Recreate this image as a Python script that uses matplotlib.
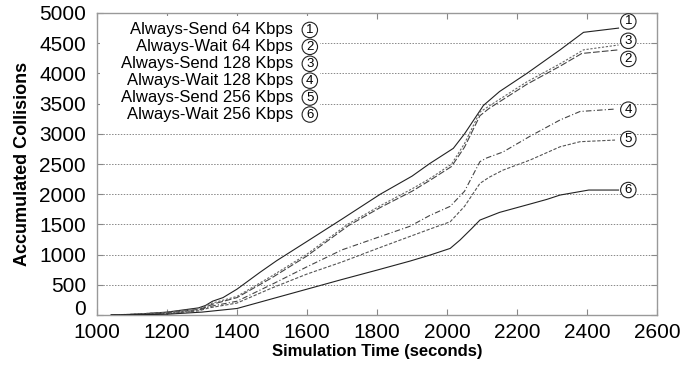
import numpy as np
import matplotlib
matplotlib.use('Agg')
import matplotlib.pyplot as plt
from matplotlib.patches import Rectangle

plt.rcParams['font.family'] = ['Liberation Sans', 'DejaVu Sans']

# curve data (time in s, accumulated collisions)
t1 = [1040, 1100, 1200, 1290, 1310, 1330, 1360, 1400, 1466, 1513, 1600, 1700, 1809, 1900, 1951, 2018, 2050, 2104, 2150, 2228, 2323, 2390, 2490]
v1 = [0, 10, 50, 120, 160, 230, 290, 430, 710, 900, 1220, 1590, 2000, 2300, 2510, 2760, 3000, 3470, 3700, 4000, 4390, 4680, 4750]

t2 = [1040, 1200, 1290, 1310, 1330, 1400, 1500, 1600, 1718, 1809, 1900, 1951, 2013, 2050, 2094, 2120, 2228, 2323, 2385, 2490]
v2 = [0, 40, 95, 130, 180, 290, 620, 980, 1480, 1780, 2050, 2230, 2460, 2780, 3300, 3420, 3820, 4120, 4330, 4390]

t3 = [1040, 1200, 1290, 1310, 1330, 1400, 1500, 1600, 1718, 1809, 1900, 1951, 2013, 2050, 2094, 2120, 2228, 2323, 2390, 2490]
v3 = [0, 45, 105, 150, 200, 310, 650, 1010, 1510, 1810, 2090, 2260, 2500, 2840, 3360, 3460, 3860, 4160, 4390, 4470]

t4 = [1040, 1200, 1290, 1320, 1400, 1500, 1600, 1700, 1809, 1894, 1951, 2009, 2050, 2094, 2113, 2160, 2237, 2323, 2380, 2480]
v4 = [0, 30, 80, 140, 230, 510, 800, 1080, 1300, 1470, 1650, 1800, 2050, 2540, 2600, 2700, 2960, 3230, 3370, 3410]

t5 = [1040, 1200, 1290, 1320, 1400, 1500, 1600, 1700, 1800, 1866, 1951, 2009, 2050, 2094, 2120, 2160, 2237, 2323, 2380, 2480]
v5 = [0, 25, 70, 120, 200, 450, 680, 880, 1100, 1242, 1424, 1545, 1800, 2180, 2280, 2400, 2566, 2786, 2870, 2897]

t6 = [1040, 1200, 1300, 1400, 1500, 1600, 1700, 1800, 1894, 1951, 2009, 2037, 2070, 2094, 2150, 2237, 2285, 2323, 2405, 2490]
v6 = [0, 15, 50, 110, 270, 430, 590, 745, 894, 993, 1104, 1242, 1430, 1573, 1700, 1838, 1915, 1987, 2070, 2070]

labels = ['Always-Send 64 Kbps', 'Always-Wait 64 Kbps', 'Always-Send 128 Kbps',
          'Always-Wait 128 Kbps', 'Always-Send 256 Kbps', 'Always-Wait 256 Kbps']
end_marks = ['1', '3', '2', '4', '5', '6']
end_y = [4860, 4540, 4240, 3400, 2915, 2070]

fig = plt.figure(figsize=(6.96, 3.66), dpi=100)
ax = fig.add_axes([0.1394, 0.139, 0.8046, 0.8255])

styles = [
    dict(color='#222222', ls='-', lw=0.8),
    dict(color='#444444', ls=(0, (6, 2)), lw=0.8),
    dict(color='#666666', ls=(0, (2, 1.5)), lw=0.8),
    dict(color='#444444', ls=(0, (5, 2, 1, 2)), lw=0.8),
    dict(color='#555555', ls=(0, (3, 1.5)), lw=0.8),
    dict(color='#222222', ls='-', lw=0.8),
]
series = [(t1, v1), (t2, v2), (t3, v3), (t4, v4), (t5, v5), (t6, v6)]
for (t, v), st in zip(series, styles):
    ax.plot(t, v, zorder=3, **st)

ax.set_xlim(1000, 2600)
ax.set_ylim(0, 5000)
ax.set_xticks(np.arange(1000, 2601, 200))
ax.set_yticks(np.arange(0, 5001, 500))
ax.yaxis.grid(True, color='#888888', ls=(0, (1.5, 1.5)), lw=0.7)
ax.set_axisbelow(True)
ax.tick_params(direction='in', length=4, color='#888888', labelsize=15,
               top=True, right=True)
ax.tick_params(axis='y', pad=8)
ax.tick_params(axis='x', pad=6)
for s in ax.spines.values():
    s.set_color('#999999')
    s.set_linewidth(1)
# lift the "0" so it sits above the "1000" like the original
ax.yaxis.get_major_ticks()[0].label1.set_verticalalignment('baseline')

# blank area behind key
ax.add_patch(Rectangle((1008, 3250), 630, 1700, facecolor='white',
                       edgecolor='none', zorder=1.5))

key_y = [4720, 4440, 4160, 3880, 3600, 3320]
for i, lab in enumerate(labels):
    ax.text(1560, key_y[i], lab, ha='right', va='center', fontsize=12, zorder=4)
    ax.text(1608, key_y[i], str(i + 1), ha='center', va='center', fontsize=9.5,
            zorder=4, bbox=dict(boxstyle='circle,pad=0.13', fc='white',
                                ec='#222222', lw=0.8))

for m, y in zip(end_marks, end_y):
    ax.text(2518, y, m, ha='center', va='center', fontsize=9.5, zorder=4,
            bbox=dict(boxstyle='circle,pad=0.13', fc='white', ec='#222222', lw=0.8))

ax.set_xlabel('Simulation Time (seconds)', fontsize=12, fontweight='bold', labelpad=1)
ax.set_ylabel('Accumulated Collisions', fontsize=13, fontweight='bold', labelpad=6)

fig.savefig('out.png', dpi=100)
